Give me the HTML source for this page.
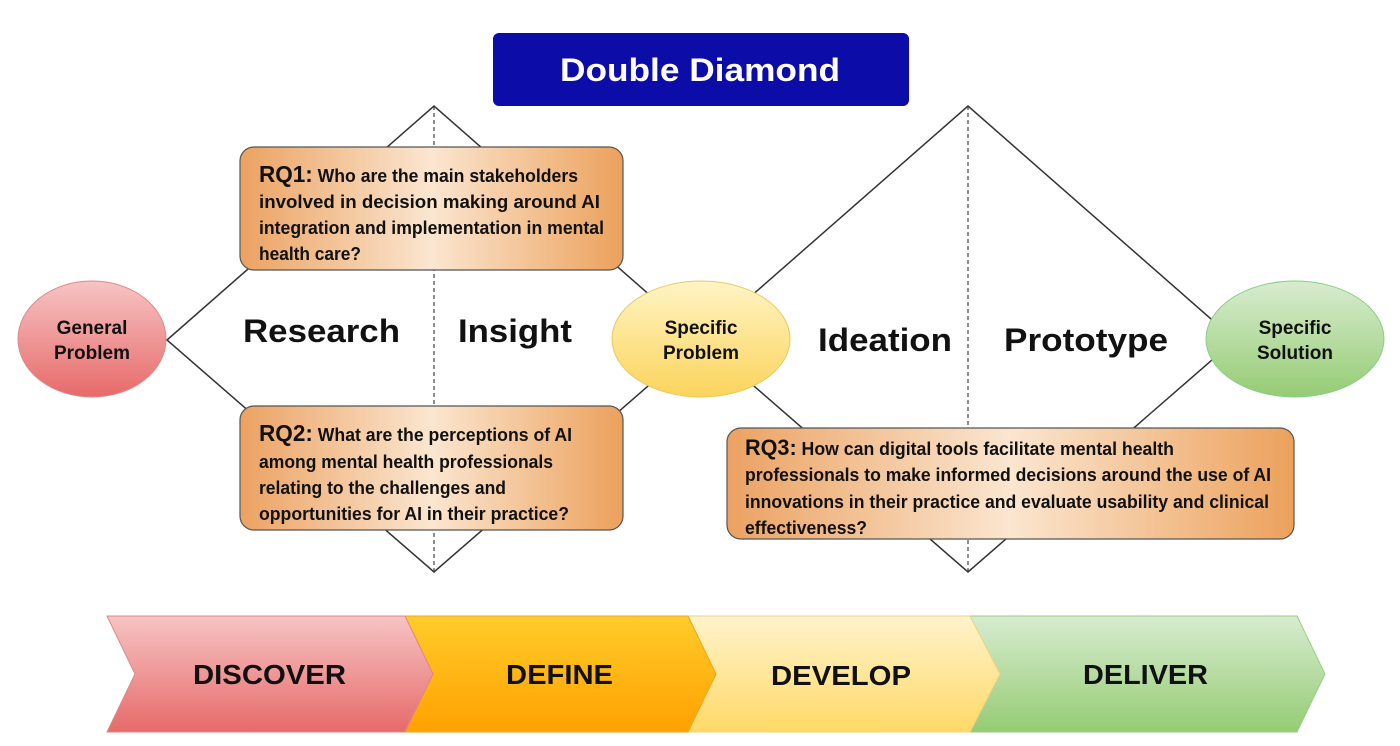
<!DOCTYPE html>
<html><head><meta charset="utf-8"><style>
html,body{margin:0;padding:0;background:#fff;}
svg{display:block;}
text{font-family:"Liberation Sans Narrow","Liberation Sans",sans-serif;font-weight:bold;fill:#111;}
.w{font-family:"Liberation Sans",sans-serif;}
</style></head><body>
<svg width="1400" height="746" viewBox="0 0 1400 746" xmlns="http://www.w3.org/2000/svg">
<defs>
<linearGradient id="rq" x1="0" y1="0" x2="1" y2="0">
<stop offset="0" stop-color="#eba262"/><stop offset="0.5" stop-color="#fbe6d0"/><stop offset="1" stop-color="#eca15c"/></linearGradient>
<linearGradient id="red" x1="0" y1="0" x2="0" y2="1"><stop offset="0" stop-color="#f7c4c4"/><stop offset="1" stop-color="#e76a6a"/></linearGradient>
<linearGradient id="yel" x1="0" y1="0" x2="0" y2="1"><stop offset="0" stop-color="#fff4c4"/><stop offset="1" stop-color="#fbd45c"/></linearGradient>
<linearGradient id="grn" x1="0" y1="0" x2="0" y2="1"><stop offset="0" stop-color="#d8ecd0"/><stop offset="1" stop-color="#96cc74"/></linearGradient>
<linearGradient id="org" x1="0" y1="0" x2="0" y2="1"><stop offset="0" stop-color="#ffcc2a"/><stop offset="1" stop-color="#ffa100"/></linearGradient>
<linearGradient id="yel2" x1="0" y1="0" x2="0" y2="1"><stop offset="0" stop-color="#fff3cc"/><stop offset="1" stop-color="#ffd966"/></linearGradient>
</defs>
<rect x="493" y="33" width="416" height="73" rx="6" fill="#0c0ca8"/>
<text x="560" y="81" class="w" font-size="32" style="fill:#fff" textLength="280" lengthAdjust="spacingAndGlyphs">Double Diamond</text>
<polygon points="167,340 434,106 701,340 434,572" fill="none" stroke="#333" stroke-width="1.5"/>
<polygon points="701,340 968,106 1235,340 968,572" fill="none" stroke="#333" stroke-width="1.5"/>
<line x1="434" y1="106" x2="434" y2="572" stroke="#444" stroke-width="1.2" stroke-dasharray="4,3"/>
<line x1="968" y1="106" x2="968" y2="572" stroke="#444" stroke-width="1.2" stroke-dasharray="4,3"/>
<text class="w" x="243" y="342" font-size="32" textLength="157" lengthAdjust="spacingAndGlyphs">Research</text>
<text class="w" x="458" y="342" font-size="32" textLength="114" lengthAdjust="spacingAndGlyphs">Insight</text>
<text class="w" x="818" y="351" font-size="32" textLength="134" lengthAdjust="spacingAndGlyphs">Ideation</text>
<text class="w" x="1004" y="351" font-size="32" textLength="164" lengthAdjust="spacingAndGlyphs">Prototype</text>
<ellipse cx="92" cy="339" rx="74" ry="58" fill="url(#red)" stroke="#d88" stroke-width="1"/>
<text class="w" x="92" y="334" text-anchor="middle" font-size="19">General</text>
<text class="w" x="92" y="359" text-anchor="middle" font-size="19">Problem</text>
<ellipse cx="701" cy="339" rx="89" ry="58" fill="url(#yel)" stroke="#e8c860" stroke-width="1"/>
<text class="w" x="701" y="334" text-anchor="middle" font-size="19">Specific</text>
<text class="w" x="701" y="359" text-anchor="middle" font-size="19">Problem</text>
<ellipse cx="1295" cy="339" rx="89" ry="58" fill="url(#grn)" stroke="#8c8" stroke-width="1"/>
<text class="w" x="1295" y="334" text-anchor="middle" font-size="19">Specific</text>
<text class="w" x="1295" y="359" text-anchor="middle" font-size="19">Solution</text>
<rect x="240" y="147" width="383" height="123" rx="14" fill="url(#rq)" stroke="#555" stroke-width="1.2"/>
<text x="259" y="182" font-size="18" textLength="319" lengthAdjust="spacingAndGlyphs"><tspan font-size="23">RQ1:</tspan> Who are the main stakeholders</text>
<text x="259" y="208" font-size="18" textLength="341" lengthAdjust="spacingAndGlyphs">involved in decision making around AI</text>
<text x="259" y="234" font-size="18" textLength="345" lengthAdjust="spacingAndGlyphs">integration and implementation in mental</text>
<text x="259" y="260" font-size="18" textLength="102" lengthAdjust="spacingAndGlyphs">health care?</text>
<rect x="240" y="406" width="383" height="124" rx="14" fill="url(#rq)" stroke="#555" stroke-width="1.2"/>
<text x="259" y="441" font-size="18" textLength="313" lengthAdjust="spacingAndGlyphs"><tspan font-size="23">RQ2:</tspan> What are the perceptions of AI</text>
<text x="259" y="468" font-size="18" textLength="294" lengthAdjust="spacingAndGlyphs">among mental health professionals</text>
<text x="259" y="494" font-size="18" textLength="247" lengthAdjust="spacingAndGlyphs">relating to the challenges and</text>
<text x="259" y="520" font-size="18" textLength="310" lengthAdjust="spacingAndGlyphs">opportunities for AI in their practice?</text>
<rect x="727" y="428" width="567" height="111" rx="14" fill="url(#rq)" stroke="#555" stroke-width="1.2"/>
<text x="745" y="455" font-size="18" textLength="429" lengthAdjust="spacingAndGlyphs"><tspan font-size="22">RQ3:</tspan> How can digital tools facilitate mental health</text>
<text x="745" y="481" font-size="18" textLength="526" lengthAdjust="spacingAndGlyphs">professionals to make informed decisions around the use of AI</text>
<text x="745" y="508" font-size="18" textLength="524" lengthAdjust="spacingAndGlyphs">innovations in their practice and evaluate usability and clinical</text>
<text x="745" y="534" font-size="18" textLength="122" lengthAdjust="spacingAndGlyphs">effectiveness?</text>
<polygon points="970,616 1297,616 1325,674 1297,732 970,732 998,674" fill="url(#grn)" stroke="#9c8" stroke-width="1"/>
<polygon points="688,616 970,616 1000,674 970,732 688,732 716,674" fill="url(#yel2)" stroke="#eed080" stroke-width="1"/>
<polygon points="405,616 688,616 716,674 688,732 405,732 433,674" fill="url(#org)" stroke="#e8a820" stroke-width="1"/>
<polygon points="107,616 405,616 433,674 405,732 107,732 135,674" fill="url(#red)" stroke="#d88" stroke-width="1"/>
<text class="w" x="193" y="684" font-size="28" textLength="153" lengthAdjust="spacingAndGlyphs">DISCOVER</text>
<text class="w" x="506" y="684" font-size="28" textLength="107" lengthAdjust="spacingAndGlyphs">DEFINE</text>
<text class="w" x="771" y="685" font-size="28" textLength="140" lengthAdjust="spacingAndGlyphs">DEVELOP</text>
<text class="w" x="1083" y="684" font-size="28" textLength="125" lengthAdjust="spacingAndGlyphs">DELIVER</text>
</svg>
</body></html>
